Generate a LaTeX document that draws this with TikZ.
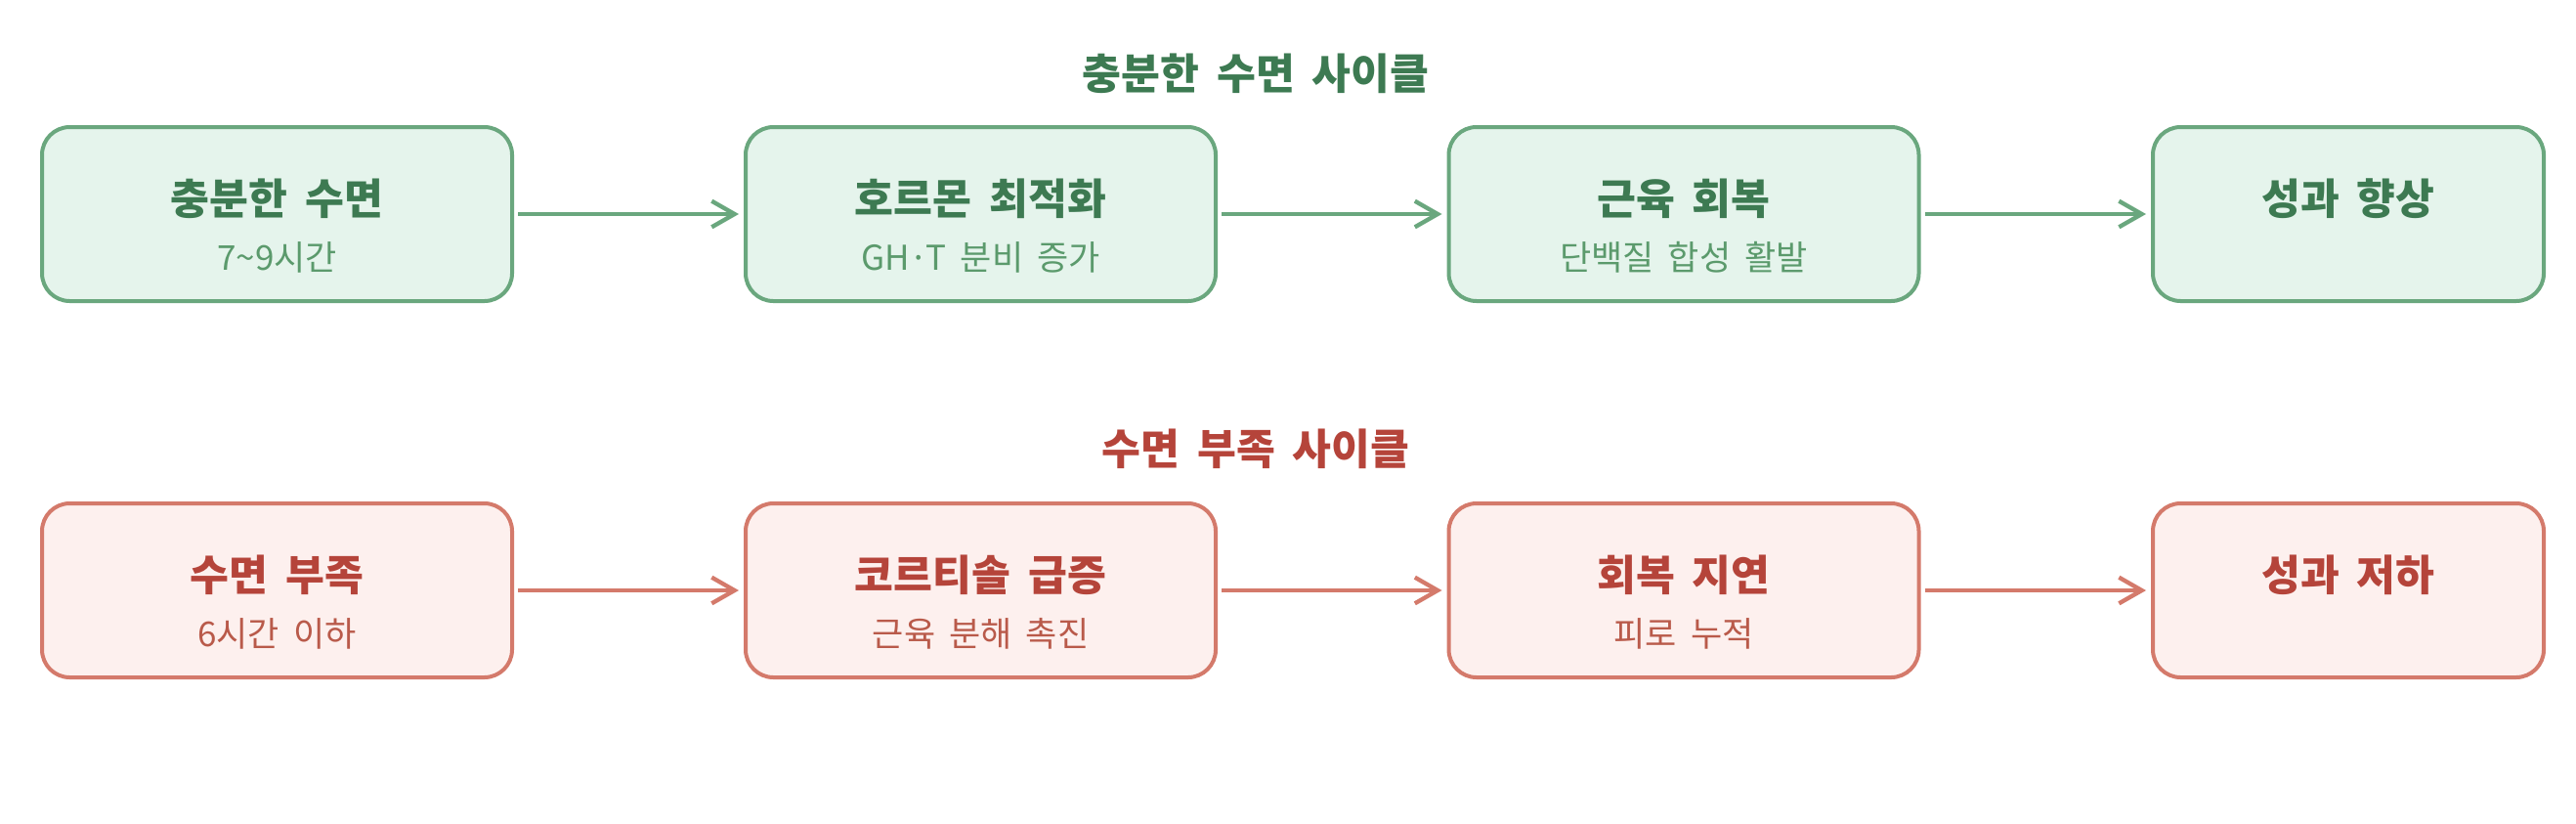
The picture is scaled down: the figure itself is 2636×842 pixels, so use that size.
\documentclass[tikz,border=0pt]{standalone}
\usepackage{fontspec}
\setmainfont{Noto Sans CJK KR}[WordSpace=1.8]
\usepackage{tikz}
\usetikzlibrary{arrows.meta}
\definecolor{gline}{HTML}{6AA77E}
\definecolor{gfill}{HTML}{E5F4EC}
\definecolor{gtext}{HTML}{3D7A52}
\definecolor{gsub}{HTML}{5B9A6C}
\definecolor{rline}{HTML}{D47A6B}
\definecolor{rfill}{HTML}{FDF0EE}
\definecolor{rtext}{HTML}{B5443A}
\definecolor{rsub}{HTML}{B95A4A}

\begin{document}
\begin{tikzpicture}[x=0.3pt, y=-0.3pt,
	box/.style={rectangle, rounded corners=8.5pt, line width=1.2pt, minimum width=144.3pt, minimum height=53.4pt, inner sep=0pt},
	gbox/.style={box, draw=gline, fill=gfill},
	rbox/.style={box, draw=rline, fill=rfill},
	title/.style={font=\bfseries\fontsize{13}{15}\selectfont},
	maintxt/.style={font=\bfseries\fontsize{13}{15}\selectfont},
	subtxt/.style={font=\fontsize{10.5}{12}\selectfont},
	flow/.style={line width=1.3pt, -{Straight Barb[length=7pt, width=8pt, line width=1.3pt]}, shorten <=1.2pt, shorten >=1.5pt}]
			\useasboundingbox (0,0) rectangle (2636,842);
			% good sleep cycle
			\node[title, text=gtext] (gtitle) at (1285,75) {충분한 수면 사이클};
			\node[gbox] (g1) at (283.5,219) {};
			\node[gbox] (g2) at (1003.5,219) {};
			\node[gbox] (g3) at (1723,219) {};
			\node[gbox, minimum width=120pt] (g4) at (2403,219) {};
			\node[maintxt, text=gtext] (g1m) at ([yshift=4.8pt]g1.center) {충분한 수면};
			\node[subtxt, text=gsub] (g1s) at ([yshift=-13.2pt]g1.center) {7\textasciitilde 9시간};
			\node[maintxt, text=gtext] (g2m) at ([yshift=4.8pt]g2.center) {호르몬 최적화};
			\node[subtxt, text=gsub] (g2s) at ([yshift=-13.2pt]g2.center) {GH·T 분비 증가};
			\node[maintxt, text=gtext] (g3m) at ([yshift=4.8pt]g3.center) {근육 회복};
			\node[subtxt, text=gsub] (g3s) at ([yshift=-13.2pt]g3.center) {단백질 합성 활발};
			\node[maintxt, text=gtext] (g4m) at ([yshift=4.8pt]g4.center) {성과 향상};
			\draw[flow, gline] (g1) -- (g2);
			\draw[flow, gline] (g2) -- (g3);
			\draw[flow, gline] (g3) -- (g4);
			% sleep deprivation cycle
			\node[title, text=rtext] (rtitle) at (1285,459) {수면 부족 사이클};
			\node[rbox] (r1) at (283.5,604) {};
			\node[rbox] (r2) at (1003.5,604) {};
			\node[rbox] (r3) at (1723,604) {};
			\node[rbox, minimum width=120pt] (r4) at (2403,604) {};
			\node[maintxt, text=rtext] (r1m) at ([yshift=4.8pt]r1.center) {수면 부족};
			\node[subtxt, text=rsub] (r1s) at ([yshift=-13.2pt]r1.center) {6시간 이하};
			\node[maintxt, text=rtext] (r2m) at ([yshift=4.8pt]r2.center) {코르티솔 급증};
			\node[subtxt, text=rsub] (r2s) at ([yshift=-13.2pt]r2.center) {근육 분해 촉진};
			\node[maintxt, text=rtext] (r3m) at ([yshift=4.8pt]r3.center) {회복 지연};
			\node[subtxt, text=rsub] (r3s) at ([yshift=-13.2pt]r3.center) {피로 누적};
			\node[maintxt, text=rtext] (r4m) at ([yshift=4.8pt]r4.center) {성과 저하};
			\draw[flow, rline] (r1) -- (r2);
			\draw[flow, rline] (r2) -- (r3);
			\draw[flow, rline] (r3) -- (r4);
		\end{tikzpicture}
\end{document}
